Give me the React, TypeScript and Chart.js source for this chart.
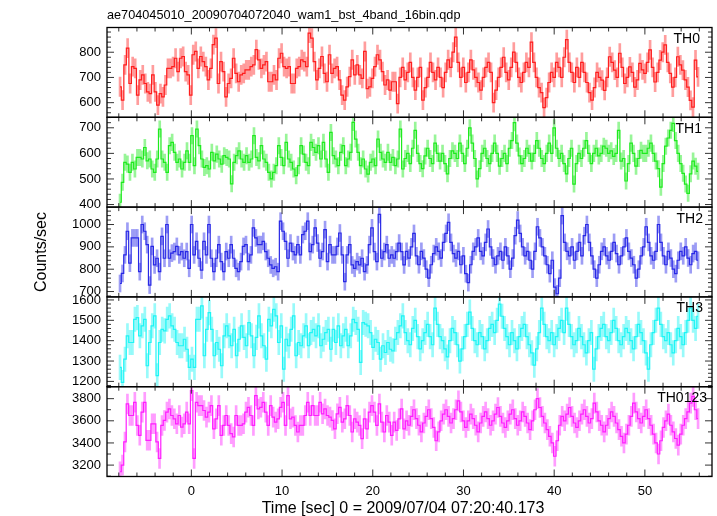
import React, { useEffect, useRef } from "react";
import { Chart, registerables } from "chart.js";
Chart.register(...registerables);

const TITLE = "ae704045010_20090704072040_wam1_bst_4band_16bin.qdp";
const X_TITLE = "Time [sec] 0 = 2009/07/04 07:20:40.173";
const Y_TITLE = "Counts/sec";
const T_START = -8;
const T_END = 56;
const X_MIN = -9.3;
const X_MAX = 57.4;
const X_TICKS = [0, 10, 20, 30, 40, 50];

const PANELS = ["TH0", "TH1", "TH2", "TH3", "TH0123"];

const TH0 = [
  663,610,750,816,676,743,736,630,690,710,
  676,643,636,710,643,590,636,623,670,736,
  736,743,776,723,776,783,723,710,630,790,
  803,736,783,763,743,690,736,830,856,676,
  763,723,623,676,696,776,716,683,710,716,
  730,730,743,750,810,770,736,750,763,683,
  683,710,690,776,796,743,736,743,676,676,
  736,743,770,763,743,876,856,763,690,736,
  783,716,683,790,716,736,743,690,630,610,
  663,703,770,710,750,710,696,803,656,663,
  696,743,790,770,723,670,690,650,683,683,
  596,
  700,740,690,720,760,700,650,700,740,610,
  660,700,760,720,690,740,700,660,720,770,
  740,800,860,760,700,740,680,720,770,730,
  700,680,650,700,740,760,720,600,650,700,
  740,780,720,690,740,800,760,700,680,720,
  760,740,840,760,700,660,640,580,620,680,
  720,700,760,740,700,780,850,760,720,680,
  740,700,760,720,680,640,610,660,720,700,
  689,649,700,782,760,729,700,796,740,676,
  700,742,720,662,690,756,730,716,760,809,
  740,682,720,769,800,829,760,716,662,700,
  782,750,729,690,662,609,582,769,702,
];
const TH1 = [
  409,487,565,558,526,565,539,584,584,578,
  623,571,578,539,526,578,695,578,565,526,
  630,643,604,565,578,539,565,610,565,669,
  552,695,630,578,545,552,539,604,571,597,
  578,558,591,584,578,481,565,591,610,578,
  565,591,565,578,669,584,571,630,578,565,
  526,500,526,552,630,584,552,643,578,565,
  539,513,552,630,597,565,552,643,623,604,
  630,578,643,578,526,682,591,578,552,604,
  630,552,578,604,721,656,604,552,578,539,
  519,565,578,552,656,604,578,565,604,565,
  584,552,578,695,539,
  580,600,560,620,690,600,560,540,590,620,
  580,560,640,600,570,600,560,520,580,610,
  600,580,640,600,560,620,700,640,580,500,
  540,600,620,580,560,600,640,600,550,580,
  600,560,620,650,720,640,590,560,580,620,
  600,570,600,650,620,580,560,600,640,600,
  700,620,580,600,560,520,580,620,480,560,
  600,580,620,650,600,560,600,620,590,600,
  628,620,600,610,588,600,690,570,580,492,
  560,640,600,550,580,612,600,600,620,640,
  600,570,540,468,560,628,660,690,717,650,
  600,560,522,480,444,520,570,550,530,
];
const TH2 = [
  736,781,864,970,827,940,940,940,789,1000,
  970,910,729,902,819,849,789,947,849,1000,
  849,872,879,902,864,879,849,879,804,1000,
  864,925,849,796,925,864,1000,849,789,849,
  910,834,789,879,849,910,849,804,789,834,
  902,910,834,864,985,940,910,910,925,879,
  849,819,804,811,789,1015,970,925,849,917,
  879,864,910,864,955,970,1015,879,910,985,
  917,849,879,977,834,910,864,864,902,962,
  864,744,864,910,819,804,834,819,849,789,
  819,910,985,879,834,1045,849,879,910,849,
  864,849,879,917,879,819,
  880,850,900,960,860,820,880,850,800,760,
  820,870,900,880,850,920,960,1010,920,870,
  850,880,820,860,780,740,820,880,900,940,
  880,860,920,980,900,850,820,860,880,840,
  900,860,800,850,950,1020,960,900,860,880,
  840,800,880,990,940,900,860,820,780,840,
  720,690,760,1040,920,880,860,900,840,880,
  920,860,950,1000,920,860,800,760,820,880,
  900,860,840,880,920,870,820,860,900,940,
  880,850,820,760,800,860,900,990,920,860,
  840,880,1000,920,860,820,880,850,800,780,
  840,880,860,900,850,820,870,880,840,
];
const TH3 = [
  1269,1195,1309,1424,1391,1391,1505,1513,1424,1473,
  1505,1277,1391,1473,1522,1228,1391,1456,1448,1505,
  1522,1473,1456,1391,1375,1375,1407,1358,1269,1309,
  1269,1505,1505,1571,1326,1456,1538,1456,1326,1391,
  1358,1277,1424,1473,1424,1375,1456,1326,1407,1473,
  1416,1375,1489,1424,1326,1416,1522,1424,1375,1309,
  1505,1473,1554,1522,1391,1473,1260,1407,1375,1456,
  1522,1326,1391,1375,1424,1473,1375,1440,1456,1424,
  1473,1375,1407,1440,1456,1358,1456,1391,1473,1375,
  1424,1456,1375,1424,1505,1489,1456,1293,1489,1481,
  1473,1440,1367,1407,1391,1309,1375,1342,1391,1358,
  1350,1407,1440,1473,1522,
  1440,1400,1380,1460,1500,1420,1360,1400,1440,1480,
  1420,1380,1560,1480,1420,1400,1360,1320,1400,1460,
  1440,1380,1300,1360,1420,1480,1540,1460,1400,1380,
  1440,1420,1360,1400,1460,1480,1440,1500,1580,1520,
  1460,1420,1380,1440,1400,1360,1420,1460,1480,1420,
  1380,1340,1280,1360,1440,1560,1480,1420,1400,1440,
  1380,1420,1460,1500,1440,1560,1480,1420,1380,1400,
  1460,1420,1380,1340,1400,1440,1260,1360,1420,1460,
  1480,1420,1400,1440,1500,1460,1400,1380,1420,1460,
  1440,1400,1360,1420,1480,1440,1400,1340,1260,1380,
  1440,1500,1560,1480,1420,1400,1440,1380,1340,1400,
  1460,1420,1380,1440,1500,1560,1500,1460,1520,
];
const TH0123 = [
  3140,3200,3409,3752,3648,3648,3767,3558,3469,3678,
  3767,3424,3424,3573,3573,3409,3260,3558,3603,3678,
  3707,3648,3618,3573,3648,3543,3573,3678,3573,3872,
  3260,3767,3737,3737,3693,3633,3678,3737,3528,3618,
  3737,3469,3558,3648,3558,3484,3454,3648,3558,3558,
  3573,3678,3722,3648,3558,3827,3707,3722,3767,3678,
  3558,3737,3633,3588,3618,3722,3767,3558,3827,3618,
  3633,3558,3499,3558,3558,3648,3767,3648,3737,3648,
  3648,3767,3663,3707,3648,3633,3603,3528,3663,3722,
  3588,3618,3737,3648,3499,3618,3588,3558,3439,3618,
  3528,3678,3737,3678,3558,3752,3588,3499,3648,3588,
  3469,3588,3513,3618,3707,3528,
  3600,3560,3640,3700,3620,3560,3500,3580,3640,3700,
  3620,3540,3420,3500,3600,3660,3700,3640,3580,3620,
  3700,3780,3680,3600,3540,3600,3660,3620,3560,3500,
  3580,3640,3680,3620,3560,3600,3660,3720,3640,3580,
  3540,3600,3660,3700,3620,3560,3600,3680,3640,3580,
  3520,3600,3700,3800,3720,3640,3580,3520,3460,3400,
  3280,3420,3560,3640,3600,3660,3720,3640,3580,3540,
  3600,3660,3700,3640,3580,3620,3760,3680,3600,3560,
  3500,3560,3620,3680,3640,3580,3520,3460,3400,3480,
  3560,3640,3760,3680,3620,3580,3640,3700,3620,3560,
  3480,3400,3300,3420,3540,3600,3660,3560,3500,3440,
  3380,3480,3560,3620,3680,3760,3820,3700,3620,
];

const SERIES = [TH0, TH1, TH2, TH3, TH0123];
const ERRORS = [38, 32, 38, 60, 90];
const Y_MIN = [542, 390, 676, 1174, 3097];
const Y_MAX = [898, 741, 1078, 1615, 3908];
const Y_TICKS = [
  [600, 700, 800],
  [400, 500, 600, 700],
  [700, 800, 900, 1000],
  [1200, 1300, 1400, 1500, 1600],
  [3200, 3400, 3600, 3800],
];
const Y_STEP = [100, 100, 100, 100, 200];
const Y_MINOR = [20, 20, 20, 20, 100];
const LABEL_RIGHT = [700, 702, 703, 703, 707];
const LINE_COLORS = ["rgb(255,30,30)", "rgb(30,235,30)", "rgb(40,40,230)", "rgb(30,245,245)", "rgb(255,30,255)"];
const BAR_COLORS = ["rgba(255,60,60,0.5)", "rgba(50,235,50,0.5)", "rgba(60,60,235,0.5)", "rgba(50,245,245,0.5)", "rgba(255,60,255,0.5)"];

const FONT = "'Liberation Sans', Arial, Helvetica, sans-serif";

export default function App() {
  const ref = useRef<HTMLCanvasElement | null>(null);
  useEffect(() => {
    const canvas = ref.current;
    if (!canvas) return;
    const datasets: any[] = [];
    SERIES.forEach((vals, k) => {
      const n = vals.length;
      const w = (T_END - T_START) / n;
      const times = vals.map((_, i) => T_START + (i + 0.5) * w);
      datasets.push({
        type: "bar",
        data: vals.map((v, i) => ({ x: times[i], y: [v - ERRORS[k], v + ERRORS[k]] })),
        yAxisID: "y" + k,
        backgroundColor: BAR_COLORS[k],
        borderWidth: 0,
        barThickness: 2,
        grouped: false,
        order: 2,
      });
      datasets.push({
        type: "line",
        data: vals.map((v, i) => ({ x: times[i], y: v })),
        yAxisID: "y" + k,
        borderColor: LINE_COLORS[k],
        borderWidth: 1.2,
        pointRadius: 0,
        stepped: "middle",
        order: 1,
      });
    });

    const scales: any = {
      x: {
        type: "linear",
        position: "bottom",
        offset: false,
        min: X_MIN,
        max: X_MAX,
        grid: { display: false, drawTicks: false, offset: false },
        border: { display: false },
        afterBuildTicks: (s: any) => { s.ticks = X_TICKS.map((v) => ({ value: v })); },
        ticks: {
          autoSkip: false,
          maxRotation: 0,
          padding: 7,
          color: "#000",
          font: { family: FONT, size: 13 },
          callback: (v: any) => String(v),
        },
        afterFit: (s: any) => { s.height = 39.5; },
      },
    };
    for (let k = SERIES.length - 1; k >= 0; k--) {
      scales["y" + k] = {
        type: "linear",
        position: "left",
        stack: "panels",
        stackWeight: 1,
        offset: false,
        beginAtZero: false,
        min: Y_MIN[k],
        max: Y_MAX[k],
        grid: { display: false, drawTicks: false },
        border: { display: false },
        afterBuildTicks: (s: any) => { s.ticks = Y_TICKS[k].map((v) => ({ value: v })); },
        ticks: {
          autoSkip: false,
          padding: 6,
          color: "#000",
          font: { family: FONT, size: 13 },
          callback: (v: any) => String(v),
        },
        afterFit: (s: any) => { s.width = 107; },
      };
    }

    const framePlugin = {
      id: "frame",
      afterDraw(chart: any) {
        const ctx = chart.ctx;
        const area = chart.chartArea;
        const xs = chart.scales.x;
        ctx.save();
        ctx.fillStyle = "#000";
        ctx.font = "12.7px " + FONT;
        ctx.textAlign = "left";
        ctx.textBaseline = "alphabetic";
        ctx.fillText(TITLE, area.left, 19);
        ctx.font = "16px " + FONT;
        ctx.textAlign = "center";
        ctx.fillText(X_TITLE, 403, 513);
        ctx.save();
        ctx.translate(46, (area.top + area.bottom) / 2);
        ctx.rotate(-Math.PI / 2);
        ctx.fillText(Y_TITLE, 0, 0);
        ctx.restore();

        for (let k = 0; k < SERIES.length; k++) {
          const ys = chart.scales["y" + k];
          const top = ys.top, bottom = ys.bottom;
          ctx.strokeStyle = "#333";
          ctx.lineWidth = 1;
          ctx.beginPath();
          for (let t = -8; t <= 56; t += 2) {
            const x = xs.getPixelForValue(t);
            const len = t % 10 === 0 ? 7 : 4;
            ctx.moveTo(x, top); ctx.lineTo(x, top + len);
            ctx.moveTo(x, bottom); ctx.lineTo(x, bottom - len);
          }
          const m = Y_MINOR[k];
          for (let v = Math.ceil(Y_MIN[k] / m) * m; v <= Y_MAX[k]; v += m) {
            const y = ys.getPixelForValue(v);
            const len = v % Y_STEP[k] === 0 ? 7 : 4;
            ctx.moveTo(area.left, y); ctx.lineTo(area.left + len, y);
            ctx.moveTo(area.right, y); ctx.lineTo(area.right - len, y);
          }
          ctx.stroke();
          ctx.strokeStyle = "#000";
          ctx.lineWidth = 1.3;
          ctx.strokeRect(area.left, top, area.right - area.left, bottom - top);
          ctx.fillStyle = "#000";
          ctx.font = "14px " + FONT;
          ctx.textAlign = "right";
          ctx.fillText(PANELS[k], LABEL_RIGHT[k], top + 15.5);
        }
        ctx.restore();
      },
    };

    const chart = new Chart(canvas, {
      type: "line",
      data: { datasets },
      options: {
        responsive: false,
        animation: false,
        devicePixelRatio: 1,
        events: [],
        layout: { padding: { top: 27.5, right: 5, bottom: 0, left: 0 } },
        plugins: { legend: { display: false }, tooltip: { enabled: false }, title: { display: false } },
        scales,
      },
      plugins: [framePlugin],
    } as any);
    return () => chart.destroy();
  }, []);

  return (
    <div style={{ position: "absolute", left: 0, top: 0, width: 717, height: 516, background: "#fff" }}>
      <canvas ref={ref} width={717} height={516} style={{ width: 717, height: 516, display: "block" }} />
    </div>
  );
}
